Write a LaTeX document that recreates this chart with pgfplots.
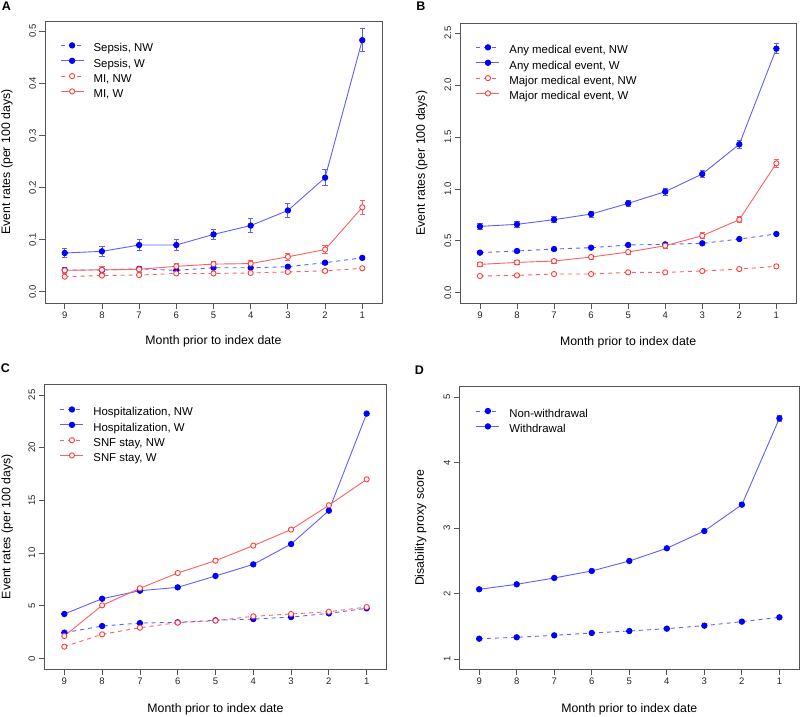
\documentclass[border=0pt]{standalone}
\usepackage{fontspec}
\setmainfont{Liberation Sans}
\usepackage{pgfplots}
\pgfplotsset{compat=1.18}
\definecolor{lblue}{RGB}{95,95,255}
\definecolor{mblue}{RGB}{0,0,255}
\definecolor{lred}{RGB}{255,95,95}
\definecolor{mred}{RGB}{255,60,60}
\definecolor{boxc}{RGB}{85,85,85}
\pgfplotsset{
  panel/.style={
    scale only axis, x dir=reverse, xmin=0.47, xmax=9.53, xtick={1,...,9},
    axis line style={boxc, line width=0.8pt},
    tick style={boxc, line width=0.8pt}, tick align=outside, major tick length=5.5pt,
    tick pos=left,
    /pgf/number format/assume math mode=true,
    ticklabel style={font=\fontsize{9.5}{11}\selectfont, text=black!85},
    yticklabel style={rotate=90, anchor=south},
    label style={font=\fontsize{12.3}{14}\selectfont},
    xlabel={Month prior to index date},
    legend cell align=left,
    legend style={draw=none, fill=none, inner sep=0pt, outer sep=0pt,
      row sep=3.2pt, column sep=0pt, anchor=north west,
      font=\fontsize{11.4}{13}\selectfont,
      nodes={inner sep=0pt, text height=8pt, text depth=3pt}},
    legend image code/.code={
      \draw[mark repeat=2, mark phase=2, ##1] plot coordinates {(0pt,4pt) (11.5pt,4pt) (23pt,4pt)};
      \path (32.5pt,4pt);
    },
    every axis plot/.append style={line width=0.9pt},
  },
  sW/.style={lblue, solid, mark=*, mark size=2.7pt, mark options={mblue, fill=mblue, solid},
    error bars/.cd, y dir=both, y explicit,
    error bar style={draw=lblue, solid, line width=0.8pt},
    error mark options={rotate=90, mark size=2.6pt, draw=lblue, solid, line width=0.8pt}},
  sNW/.style={sW, /tikz/dash pattern=on 4pt off 4pt},
  rW/.style={lred, solid, mark=*, mark size=2.6pt, mark options={mred, fill=white, solid},
    error bars/.cd, y dir=both, y explicit,
    error bar style={draw=lred, solid, line width=0.8pt},
    error mark options={rotate=90, mark size=2.6pt, draw=lred, solid, line width=0.8pt}},
  rNW/.style={rW, /tikz/dash pattern=on 4pt off 4pt},
}
\begin{document}
\begin{tikzpicture}[x=1pt,y=1pt]
\path[use as bounding box] (0,0) rectangle (800,716);
% Panel A
\begin{axis}[panel, at={(45pt,413pt)}, anchor=south west, width=337pt, height=282pt,
  ymin=-0.0217, ymax=0.5198, ytick={0,0.1,0.2,0.3,0.4,0.5},
  yticklabel style={/pgf/number format/.cd, fixed, fixed zerofill, precision=1},
  ylabel={Event rates (per 100 days)},
  ylabel style={at={(axis description cs:-0.1128,0.5)}, anchor=center},
  xlabel style={at={(axis description cs:0.5,0)}, yshift=-38.7pt, anchor=center},
  legend style={at={(axis description cs:0.045,0.923)}}]
\addplot[sNW] coordinates {(9,0.0416)+-(0,0.003) (8,0.0416)+-(0,0.003) (7,0.044)+-(0,0.003) (6,0.041)+-(0,0.003) (5,0.046)+-(0,0.003) (4,0.046)+-(0,0.003) (3,0.048)+-(0,0.003) (2,0.0557)+-(0,0.003) (1,0.065)+-(0,0.003)};
\addlegendentry{Sepsis, NW}
\addplot[sW] coordinates {(9,0.0743)+-(0,0.009) (8,0.0775)+-(0,0.009) (7,0.0896)+-(0,0.01) (6,0.0896)+-(0,0.01) (5,0.110)+-(0,0.01) (4,0.127)+-(0,0.013) (3,0.156)+-(0,0.013) (2,0.219)+-(0,0.015) (1,0.483)+-(0,0.022)};
\addlegendentry{Sepsis, W}
\addplot[rNW] coordinates {(9,0.0288)+-(0,0.002) (8,0.031)+-(0,0.002) (7,0.032)+-(0,0.002) (6,0.035)+-(0,0.002) (5,0.035)+-(0,0.002) (4,0.036)+-(0,0.002) (3,0.038)+-(0,0.002) (2,0.040)+-(0,0.002) (1,0.045)+-(0,0.002)};
\addlegendentry{MI, NW}
\addplot[rW] coordinates {(9,0.041)+-(0,0.006) (8,0.042)+-(0,0.006) (7,0.043)+-(0,0.005) (6,0.0487)+-(0,0.006) (5,0.053)+-(0,0.006) (4,0.054)+-(0,0.006) (3,0.067)+-(0,0.007) (2,0.081)+-(0,0.008) (1,0.162)+-(0,0.013)};
\addlegendentry{MI, W}
\end{axis}
% Panel B
\begin{axis}[panel, at={(460.3pt,412.7pt)}, anchor=south west, width=335.7pt, height=280pt,
  ymin=-0.102, ymax=2.596, ytick={0,0.5,1,1.5,2,2.5},
  yticklabel style={/pgf/number format/.cd, fixed, fixed zerofill, precision=1},
  ylabel={Event rates (per 100 days)},
  ylabel style={at={(axis description cs:-0.1147,0.5)}, anchor=center},
  xlabel style={at={(axis description cs:0.5,0)}, yshift=-39.4pt, anchor=center},
  legend style={at={(axis description cs:0.0468,0.9236)}}]
\addplot[sNW] coordinates {(9,0.386)+-(0,0.01) (8,0.402)+-(0,0.01) (7,0.421)+-(0,0.01) (6,0.434)+-(0,0.01) (5,0.460)+-(0,0.01) (4,0.466)+-(0,0.01) (3,0.476)+-(0,0.01) (2,0.517)+-(0,0.011) (1,0.566)+-(0,0.012)};
\addlegendentry{Any medical event, NW}
\addplot[sW] coordinates {(9,0.639)+-(0,0.03) (8,0.659)+-(0,0.03) (7,0.704)+-(0,0.03) (6,0.758)+-(0,0.03) (5,0.861)+-(0,0.03) (4,0.974)+-(0,0.035) (3,1.144)+-(0,0.035) (2,1.430)+-(0,0.04) (1,2.352)+-(0,0.05)};
\addlegendentry{Any medical event, W}
\addplot[rNW] coordinates {(9,0.161)+-(0,0.008) (8,0.167)+-(0,0.008) (7,0.180)+-(0,0.008) (6,0.180)+-(0,0.008) (5,0.196)+-(0,0.008) (4,0.196)+-(0,0.008) (3,0.209)+-(0,0.009) (2,0.228)+-(0,0.009) (1,0.254)+-(0,0.01)};
\addlegendentry{Major medical event, NW}
\addplot[rW] coordinates {(9,0.273)+-(0,0.02) (8,0.292)+-(0,0.02) (7,0.305)+-(0,0.02) (6,0.344)+-(0,0.02) (5,0.392)+-(0,0.02) (4,0.453)+-(0,0.025) (3,0.549)+-(0,0.03) (2,0.704)+-(0,0.03) (1,1.247)+-(0,0.04)};
\addlegendentry{Major medical event, W}
\end{axis}
% Panel C
\begin{axis}[panel, at={(44.3pt,47pt)}, anchor=south west, width=342.4pt, height=284.7pt,
  ymin=-1.01, ymax=26.01, ytick={0,5,10,15,20,25},
  ylabel={Event rates (per 100 days)},
  ylabel style={at={(axis description cs:-0.108,0.5)}, anchor=center},
  xlabel style={at={(axis description cs:0.5,0)}, yshift=-40pt, anchor=center},
  legend style={at={(axis description cs:0.0459,0.921)}}]
\addplot[sNW] coordinates {(9,2.44)+-(0,0.05) (8,3.07)+-(0,0.05) (7,3.35)+-(0,0.05) (6,3.42)+-(0,0.05) (5,3.61)+-(0,0.05) (4,3.73)+-(0,0.05) (3,3.92)+-(0,0.05) (2,4.27)+-(0,0.05) (1,4.75)+-(0,0.05)};
\addlegendentry{Hospitalization, NW}
\addplot[sW] coordinates {(9,4.21)+-(0,0.1) (8,5.66)+-(0,0.1) (7,6.42)+-(0,0.1) (6,6.74)+-(0,0.1) (5,7.82)+-(0,0.1) (4,8.92)+-(0,0.1) (3,10.85)+-(0,0.1) (2,14.02)+-(0,0.12) (1,23.23)+-(0,0.15)};
\addlegendentry{Hospitalization, W}
\addplot[rNW] coordinates {(9,1.11)+-(0,0.05) (8,2.28)+-(0,0.05) (7,2.91)+-(0,0.05) (6,3.39)+-(0,0.05) (5,3.58)+-(0,0.05) (4,3.99)+-(0,0.05) (3,4.21)+-(0,0.05) (2,4.43)+-(0,0.05) (1,4.87)+-(0,0.05)};
\addlegendentry{SNF stay, NW}
\addplot[rW] coordinates {(9,2.12)+-(0,0.1) (8,5.03)+-(0,0.1) (7,6.65)+-(0,0.1) (6,8.10)+-(0,0.1) (5,9.27)+-(0,0.1) (4,10.70)+-(0,0.1) (3,12.22)+-(0,0.1) (2,14.53)+-(0,0.12) (1,16.99)+-(0,0.12)};
\addlegendentry{SNF stay, W}
\end{axis}
% Panel D
\begin{axis}[panel, at={(459.3pt,47pt)}, anchor=south west, width=340pt, height=282.3pt,
  ymin=0.847, ymax=5.157, ytick={1,2,3,4,5},
  ylabel={Disability proxy score},
  ylabel style={at={(axis description cs:-0.1135,0.5)}, anchor=center},
  xlabel style={at={(axis description cs:0.5,0)}, yshift=-40pt, anchor=center},
  legend style={at={(axis description cs:0.049,0.9235)}}]
\addplot[sNW] coordinates {(9,1.310)+-(0,0.008) (8,1.331)+-(0,0.008) (7,1.361)+-(0,0.008) (6,1.397)+-(0,0.008) (5,1.427)+-(0,0.008) (4,1.463)+-(0,0.008) (3,1.509)+-(0,0.008) (2,1.570)+-(0,0.01) (1,1.636)+-(0,0.012)};
\addlegendentry{Non-withdrawal}
\addplot[sW] coordinates {(9,2.064)+-(0,0.015) (8,2.140)+-(0,0.015) (7,2.237)+-(0,0.015) (6,2.344)+-(0,0.015) (5,2.496)+-(0,0.018) (4,2.690)+-(0,0.02) (3,2.954)+-(0,0.022) (2,3.356)+-(0,0.03) (1,4.674)+-(0,0.04)};
\addlegendentry{Withdrawal}
\end{axis}
% Panel letters
\node[font=\fontsize{12.5}{14}\bfseries] at (6.5,709.7) {A};
\node[font=\fontsize{12.5}{14}\bfseries] at (421,710.2) {B};
\node[font=\fontsize{12.5}{14}\bfseries] at (5.5,347.7) {C};
\node[font=\fontsize{12.5}{14}\bfseries] at (419.5,346.3) {D};
\end{tikzpicture}
\end{document}
